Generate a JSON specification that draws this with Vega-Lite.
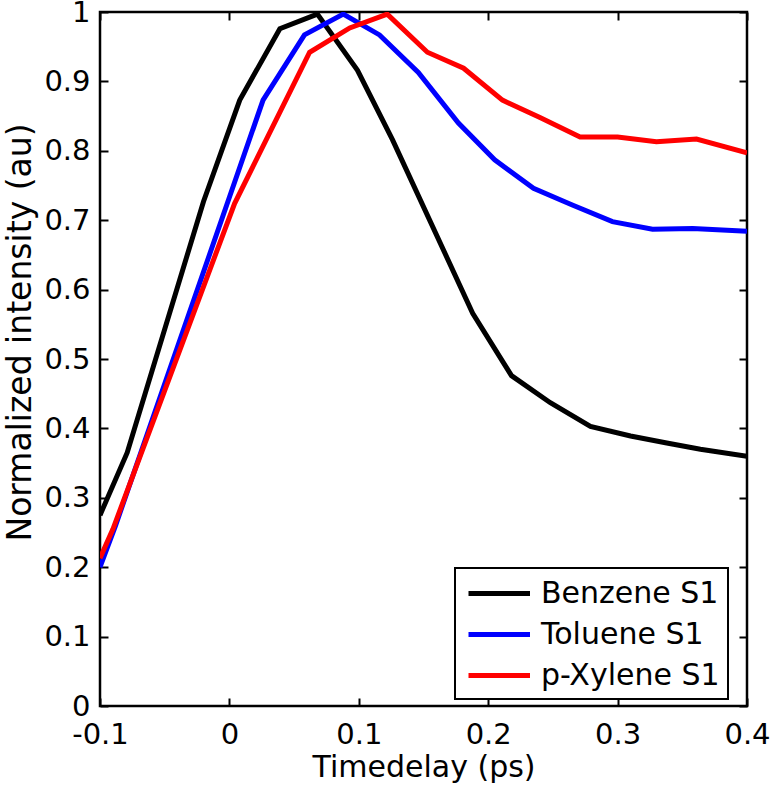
{
  "$schema": "https://vega.github.io/schema/vega-lite/v6.json",
  "autosize": "none",
  "width": 647,
  "height": 694,
  "padding": {"left": 100, "top": 12, "right": 24, "bottom": 88},
  "background": "white",
  "config": {
    "font": "DejaVu Sans",
    "view": {"stroke": "black", "strokeWidth": 2.5},
    "axis": {
      "domain": false,
      "grid": false,
      "tickColor": "black",
      "tickWidth": 2,
      "labelColor": "black",
      "titleColor": "black",
      "labelFont": "DejaVu Sans",
      "titleFont": "DejaVu Sans",
      "labelFontSize": 29,
      "labelFlush": false,
      "labelOverlap": false,
      "titleFontWeight": "normal"
    },
    "legend": {"strokeWidth": 2}
  },
  "data": {
    "values": [
      {"series": "Benzene S1", "t": -0.1, "v": 0.275},
      {"series": "Benzene S1", "t": -0.079, "v": 0.365},
      {"series": "Benzene S1", "t": -0.02, "v": 0.727},
      {"series": "Benzene S1", "t": 0.008, "v": 0.873},
      {"series": "Benzene S1", "t": 0.039, "v": 0.976},
      {"series": "Benzene S1", "t": 0.068, "v": 0.997},
      {"series": "Benzene S1", "t": 0.099, "v": 0.916},
      {"series": "Benzene S1", "t": 0.126, "v": 0.816},
      {"series": "Benzene S1", "t": 0.188, "v": 0.566},
      {"series": "Benzene S1", "t": 0.218, "v": 0.476},
      {"series": "Benzene S1", "t": 0.248, "v": 0.437},
      {"series": "Benzene S1", "t": 0.279, "v": 0.403},
      {"series": "Benzene S1", "t": 0.31, "v": 0.389},
      {"series": "Benzene S1", "t": 0.338, "v": 0.379},
      {"series": "Benzene S1", "t": 0.364, "v": 0.37},
      {"series": "Benzene S1", "t": 0.4, "v": 0.36},
      {"series": "Toluene S1", "t": -0.1, "v": 0.2},
      {"series": "Toluene S1", "t": -0.088, "v": 0.26},
      {"series": "Toluene S1", "t": 0.0, "v": 0.733},
      {"series": "Toluene S1", "t": 0.026, "v": 0.873},
      {"series": "Toluene S1", "t": 0.058, "v": 0.967},
      {"series": "Toluene S1", "t": 0.088, "v": 0.997},
      {"series": "Toluene S1", "t": 0.116, "v": 0.967},
      {"series": "Toluene S1", "t": 0.146, "v": 0.913},
      {"series": "Toluene S1", "t": 0.177, "v": 0.84},
      {"series": "Toluene S1", "t": 0.205, "v": 0.787},
      {"series": "Toluene S1", "t": 0.235, "v": 0.746},
      {"series": "Toluene S1", "t": 0.265, "v": 0.722},
      {"series": "Toluene S1", "t": 0.296, "v": 0.698},
      {"series": "Toluene S1", "t": 0.327, "v": 0.687},
      {"series": "Toluene S1", "t": 0.358, "v": 0.688},
      {"series": "Toluene S1", "t": 0.4, "v": 0.684},
      {"series": "p-Xylene S1", "t": -0.1, "v": 0.213},
      {"series": "p-Xylene S1", "t": -0.09, "v": 0.255},
      {"series": "p-Xylene S1", "t": 0.004, "v": 0.724},
      {"series": "p-Xylene S1", "t": 0.062, "v": 0.942},
      {"series": "p-Xylene S1", "t": 0.093, "v": 0.977},
      {"series": "p-Xylene S1", "t": 0.122, "v": 0.997},
      {"series": "p-Xylene S1", "t": 0.153, "v": 0.942},
      {"series": "p-Xylene S1", "t": 0.181, "v": 0.919},
      {"series": "p-Xylene S1", "t": 0.211, "v": 0.873},
      {"series": "p-Xylene S1", "t": 0.24, "v": 0.848},
      {"series": "p-Xylene S1", "t": 0.271, "v": 0.82},
      {"series": "p-Xylene S1", "t": 0.3, "v": 0.82},
      {"series": "p-Xylene S1", "t": 0.33, "v": 0.813},
      {"series": "p-Xylene S1", "t": 0.361, "v": 0.817},
      {"series": "p-Xylene S1", "t": 0.4, "v": 0.797}
    ]
  },
  "resolve": {"axis": {"x": "independent", "y": "independent"}},
  "layer": [
    {
      "mark": {"type": "line", "strokeWidth": 5, "clip": true},
      "encoding": {
        "x": {
          "field": "t", "type": "quantitative",
          "scale": {"domain": [-0.1, 0.4], "nice": false, "zero": false},
          "axis": {
            "orient": "bottom",
            "values": [-0.1, 0, 0.1, 0.2, 0.3, 0.4],
            "labelExpr": "datum.value < 0 ? '-' + format(-datum.value, '~g') : format(datum.value, '~g')",
            "tickSize": -8,
            "labelPadding": 22,
            "title": "Timedelay (ps)",
            "titleFontSize": 30,
            "titlePadding": 3
          }
        },
        "y": {
          "field": "v", "type": "quantitative",
          "scale": {"domain": [0, 1], "nice": false},
          "axis": {
            "orient": "left",
            "values": [0, 0.1, 0.2, 0.3, 0.4, 0.5, 0.6, 0.7, 0.8, 0.9, 1],
            "format": "~g",
            "tickSize": -8,
            "labelPadding": 18,
            "title": "Normalized intensity (au)",
            "titleFontSize": 33,
            "titleBaseline": "alphabetic",
            "titleX": -70,
            "titleY": 320
          }
        },
        "color": {
          "field": "series", "type": "nominal",
          "scale": {"domain": ["Benzene S1", "Toluene S1", "p-Xylene S1"], "range": ["#000000", "#0000ff", "#ff0000"]},
          "legend": {
            "title": null,
            "orient": "none",
            "legendX": 355,
            "legendY": 556,
            "symbolType": "M-0.8,0H3.3",
            "symbolStrokeWidth": 5,
            "symbolSize": 900,
            "labelFontSize": 30,
            "labelFont": "DejaVu Sans",
            "labelColor": "black",
            "labelLimit": 400,
            "labelOffset": 43,
            "strokeColor": "black",
            "fillColor": "white",
            "padding": 8,
            "rowPadding": 8
          }
        }
      }
    },
    {
      "mark": {"type": "line", "opacity": 0},
      "encoding": {
        "x": {
          "field": "t", "type": "quantitative",
          "axis": {"orient": "top", "values": [-0.1, 0, 0.1, 0.2, 0.3, 0.4], "labels": false, "tickSize": -8, "title": null}
        },
        "y": {
          "field": "v", "type": "quantitative",
          "axis": {"orient": "right", "values": [0, 0.1, 0.2, 0.3, 0.4, 0.5, 0.6, 0.7, 0.8, 0.9, 1], "labels": false, "tickSize": -8, "title": null}
        },
        "detail": {"field": "series"}
      }
    }
  ]
}
